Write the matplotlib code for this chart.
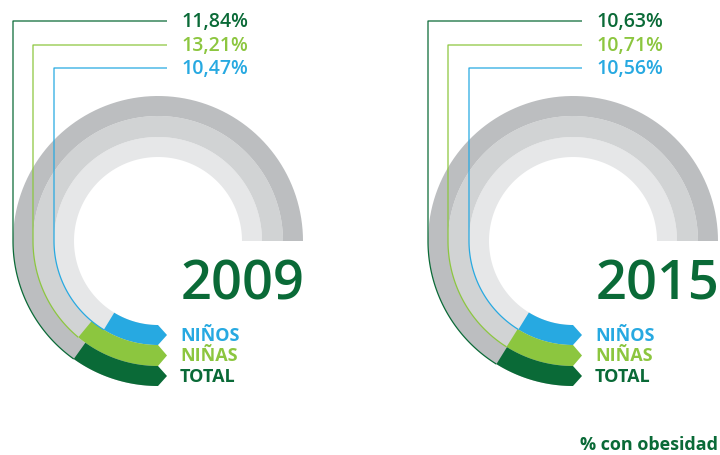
import matplotlib
matplotlib.use("Agg")
import matplotlib.pyplot as plt
import numpy as np

# ---------------------------------------------------------------------------
# Data
# ---------------------------------------------------------------------------
YEARS = ["2009", "2015"]
GROUPS = ["NIÑOS", "NIÑAS", "TOTAL"]          # inner ring -> outer ring
PCT_2009 = [10.47, 13.21, 11.84]
PCT_2015 = [10.56, 10.71, 10.63]
UNIT_LABEL = "% con obesidad"

# ---------------------------------------------------------------------------
# Style / layout (pixel coordinates, y grows downwards)
# ---------------------------------------------------------------------------
COLORS = ["#27a9e1", "#8cc63f", "#0a6a37"]
GREYS = ["#e6e7e8", "#d1d3d4", "#bcbec0"]
DARK = "#0a6a37"
CENTERS = [(158, 242), (573, 242)]
R_IN = [84, 104, 125]
R_OUT = [104, 125, 145]
LABEL_Y = [69, 46, 22]          # y of the percentage labels, per group
DEG_PER_PCT = 3.0
FONT = "Open Sans"


def arc(cx, cy, r, a0, a1, n=120):
    a = np.radians(np.linspace(a0, a1, n))
    return cx + r * np.cos(a), cy + r * np.sin(a)


def draw_panel(ax, cx, cy, year, values):
    # grey background rings: from bottom, through left and top, to the right
    for r0, r1, col in zip(R_IN, R_OUT, GREYS):
        xo, yo = arc(cx, cy, r1, 90, 360)
        xi, yi = arc(cx, cy, r0, 360, 90)
        ax.fill(np.r_[xo, xi], np.r_[yo, yi], color=col, lw=0, zorder=1)

    for i, (val, col) in enumerate(zip(values, COLORS)):
        r0, r1 = R_IN[i], R_OUT[i]
        theta = val * DEG_PER_PCT
        # coloured segment ending in an arrow tip
        xo, yo = arc(cx, cy, r1, 90 + theta, 90)
        xi, yi = arc(cx, cy, r0, 90, 90 + theta)
        xs = np.r_[xo, cx + 9, xi]
        ys = np.r_[yo, cy + (r0 + r1) / 2, yi]
        ax.fill(xs, ys, color=col, lw=0, zorder=2)

        # leader line: label -> left -> down -> along the ring edge
        xa, ya = arc(cx, cy, r1, 180, 90 + theta)
        lx = np.r_[cx + 9, cx - r1, xa]
        ly = np.r_[LABEL_Y[i], LABEL_Y[i], ya]
        ax.plot(lx, ly, color=col, lw=0.9, zorder=3, solid_capstyle="butt")

        ax.text(cx + 23, LABEL_Y[i], f"{val:.2f}%".replace(".", ","),
                color=col, fontsize=14, fontweight="semibold",
                family=FONT, ha="left", va="center")
        ax.text(cx + 22, cy + (r0 + r1) / 2, GROUPS[i],
                color=col, fontsize=13, fontweight="bold",
                family=FONT, ha="left", va="center")

    ax.text(cx + 85, cy + 44, year, color=DARK, fontsize=39,
            fontweight="semibold", family=FONT, ha="center", va="center")


fig = plt.figure(figsize=(7.2, 4.56), dpi=100)
ax = fig.add_axes([0, 0, 1, 1])
ax.set_xlim(0, 720)
ax.set_ylim(456, 0)
ax.axis("off")

for (cx, cy), year, vals in zip(CENTERS, YEARS, [PCT_2009, PCT_2015]):
    draw_panel(ax, cx, cy, year, vals)

ax.text(718, 445, UNIT_LABEL, color=DARK, fontsize=13, fontweight="bold",
        family=FONT, ha="right", va="center")

fig.savefig("out.png", dpi=100)
